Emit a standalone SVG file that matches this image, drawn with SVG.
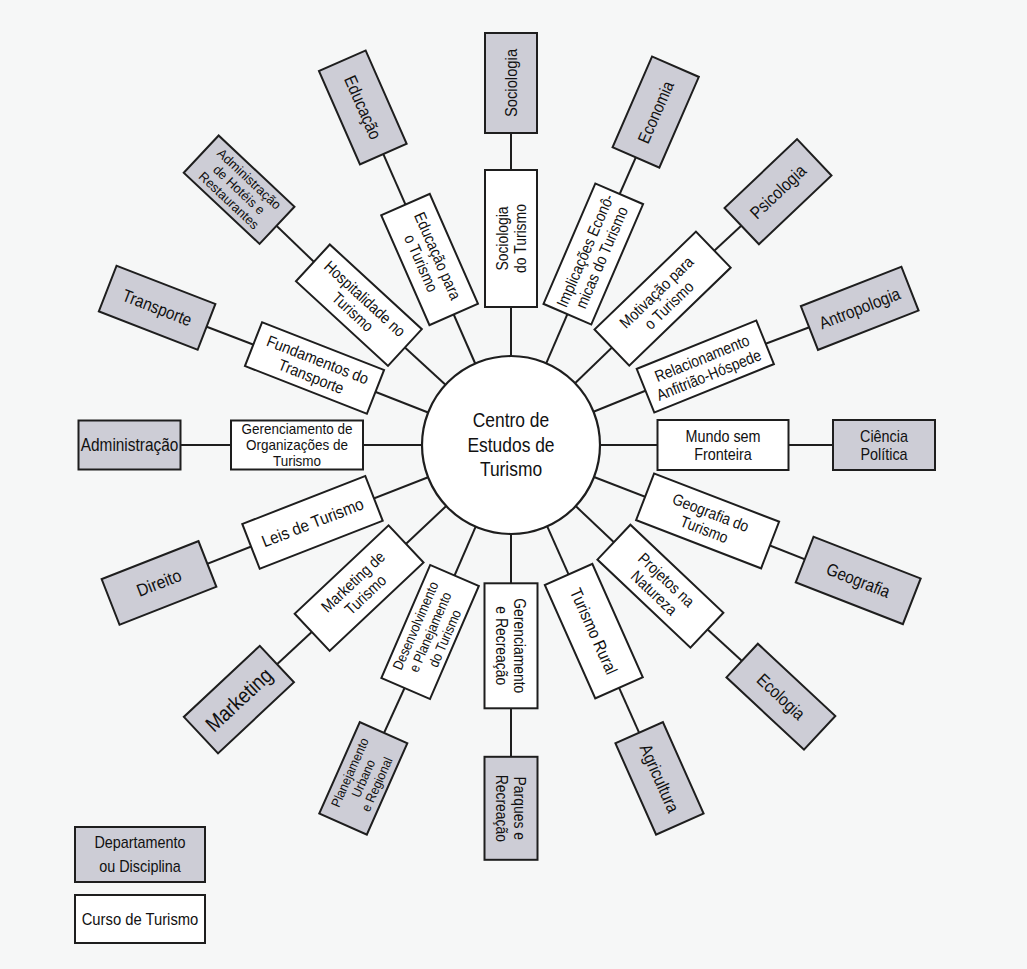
<svg xmlns="http://www.w3.org/2000/svg" width="1027" height="969" viewBox="0 0 1027 969">
<style>
.bg{fill:#f6f7f7}
.w{fill:#ffffff;stroke:#1e1e1e;stroke-width:2}
.g{fill:#cdcdd6;stroke:#1e1e1e;stroke-width:2}
.c{fill:#ffffff;stroke:#1e1e1e;stroke-width:2.2}
.ln{stroke:#1e1e1e;stroke-width:2;fill:none}
text{font-family:"Liberation Sans",Arial,sans-serif;font-size:16px;text-anchor:middle;fill:#111111}
.one{font-size:17px}
.tri{font-size:14.2px}
.gs{font-size:17.5px}
.g3{font-size:13.2px}
.big{font-size:20px}
.mk{font-size:21.5px}
</style>
<rect class="bg" x="0" y="0" width="1027" height="969"/>
<g id="connectors">
<line class="ln" x1="511" y1="356" x2="511" y2="238.5"/><line class="ln" x1="511" y1="238.5" x2="511" y2="83"/>
<line class="ln" x1="546.2" y1="363.3" x2="593.3" y2="254"/><line class="ln" x1="593.3" y1="254" x2="655.7" y2="112.1"/>
<line class="ln" x1="575" y1="383.2" x2="662.6" y2="298.6"/><line class="ln" x1="662.6" y1="298.6" x2="778" y2="191.7"/>
<line class="ln" x1="593.5" y1="411.7" x2="705.3" y2="366.5"/><line class="ln" x1="705.3" y1="366.5" x2="859.7" y2="308.3"/>
<line class="ln" x1="600" y1="445" x2="723" y2="445"/><line class="ln" x1="723" y1="445" x2="884" y2="445"/>
<line class="ln" x1="594" y1="477" x2="707.6" y2="520.9"/><line class="ln" x1="707.6" y1="520.9" x2="858.2" y2="580.4"/>
<line class="ln" x1="575.7" y1="506.1" x2="660.4" y2="586.2"/><line class="ln" x1="660.4" y1="586.2" x2="780.9" y2="696.7"/>
<line class="ln" x1="547.2" y1="526.3" x2="593.8" y2="631.1"/><line class="ln" x1="593.8" y1="631.1" x2="659.5" y2="778.4"/>
<line class="ln" x1="511" y1="534" x2="511" y2="645.8"/><line class="ln" x1="511" y1="645.8" x2="511" y2="808.3"/>
<line class="ln" x1="475.7" y1="526.7" x2="430.1" y2="632"/><line class="ln" x1="430.1" y1="632" x2="363.3" y2="778.4"/>
<line class="ln" x1="446.2" y1="506" x2="359.1" y2="588.1"/><line class="ln" x1="359.1" y1="588.1" x2="238.9" y2="699.6"/>
<line class="ln" x1="428.1" y1="477.3" x2="312.5" y2="522.4"/><line class="ln" x1="312.5" y1="522.4" x2="159" y2="582.9"/>
<line class="ln" x1="422" y1="445" x2="297" y2="445"/><line class="ln" x1="297" y1="445" x2="129.5" y2="445"/>
<line class="ln" x1="428.1" y1="412.5" x2="314.5" y2="368"/><line class="ln" x1="314.5" y1="368" x2="157.1" y2="307.7"/>
<line class="ln" x1="445.5" y1="384.8" x2="358.9" y2="305.2"/><line class="ln" x1="358.9" y1="305.2" x2="239.1" y2="189.7"/>
<line class="ln" x1="475.2" y1="363.5" x2="429.6" y2="259.5"/><line class="ln" x1="429.6" y1="259.5" x2="362.8" y2="107.4"/>
</g>
<g id="center" transform="translate(511 445)">
<circle class="c" cx="0" cy="0" r="89"/>
<text class="big" transform="scale(0.87 1)"><tspan x="0" y="-18">Centro de</tspan><tspan x="0" y="7">Estudos de</tspan><tspan x="0" y="31">Turismo</tspan></text>
</g>
<!-- courses -->
<g id="c-sociologia-turismo" transform="translate(511 238.5) rotate(-90)"><rect class="w" x="-68.5" y="-26" width="137" height="52"/><text transform="scale(0.87 1)"><tspan x="0" y="-3.3">Sociologia</tspan><tspan x="0" y="14.7">do Turismo</tspan></text></g>
<g id="c-implicacoes" transform="translate(593.3 254) rotate(-66.7)"><rect class="w" x="-65.5" y="-26" width="131" height="52"/><text transform="scale(0.87 1)"><tspan x="0" y="-3.3">Implicações Econô-</tspan><tspan x="0" y="14.7">micas do Turismo</tspan></text></g>
<g id="c-motivacao" transform="translate(662.6 298.6) rotate(-44)"><rect class="w" x="-70.5" y="-25" width="141" height="50"/><text transform="scale(0.87 1)"><tspan x="0" y="-3.3">Motivação para</tspan><tspan x="0" y="14.7">o Turismo</tspan></text></g>
<g id="c-relacionamento" transform="translate(705.3 366.5) rotate(-22)"><rect class="w" x="-64.5" y="-23.5" width="129" height="47"/><text transform="scale(0.87 1)"><tspan x="0" y="-3.3">Relacionamento</tspan><tspan x="0" y="14.7">Anfitrião-Hóspede</tspan></text></g>
<g id="c-mundo" transform="translate(723 445)"><rect class="w" x="-65.5" y="-25" width="131" height="50"/><text transform="scale(0.9 1)"><tspan x="0" y="-3.3">Mundo sem</tspan><tspan x="0" y="14.7">Fronteira</tspan></text></g>
<g id="c-geografia-turismo" transform="translate(707.6 520.9) rotate(21.1)"><rect class="w" x="-67" y="-25" width="134" height="50"/><text transform="scale(0.87 1)"><tspan x="0" y="-3.3">Geografia do</tspan><tspan x="0" y="14.7">Turismo</tspan></text></g>
<g id="c-projetos" transform="translate(660.4 586.2) rotate(43.4)"><rect class="w" x="-64" y="-24" width="128" height="48"/><text transform="scale(0.87 1)"><tspan x="0" y="-3.3">Projetos na</tspan><tspan x="0" y="14.7">Natureza</tspan></text></g>
<g id="c-rural" transform="translate(593.8 631.1) rotate(66)"><rect class="w" x="-62" y="-26" width="124" height="52"/><text class="one" transform="scale(0.87 1)" x="0" y="6">Turismo Rural</text></g>
<g id="c-gerenc-recreacao" transform="translate(511 645.8) rotate(90)"><rect class="w" x="-62.5" y="-26.5" width="125" height="53"/><text transform="scale(0.87 1)"><tspan x="0" y="-3.3">Gerenciamento</tspan><tspan x="0" y="14.7">e Recreação</tspan></text></g>
<g id="c-desenvolvimento" transform="translate(430.1 632) rotate(-66.6)"><rect class="w" x="-61.5" y="-26.5" width="123" height="53"/><text class="tri" transform="scale(0.87 1)"><tspan x="0" y="-11">Desenvolvimento</tspan><tspan x="0" y="5">e Planejamento</tspan><tspan x="0" y="21">do Turismo</tspan></text></g>
<g id="c-marketing-turismo" transform="translate(359.1 588.1) rotate(-43.3)"><rect class="w" x="-64.5" y="-25.5" width="129" height="51"/><text transform="scale(0.87 1)"><tspan x="0" y="-3.3">Marketing de</tspan><tspan x="0" y="14.7">Turismo</tspan></text></g>
<g id="c-leis" transform="translate(312.5 522.4) rotate(-21.3)"><rect class="w" x="-66" y="-24" width="132" height="48"/><text class="one" transform="scale(0.9 1)" x="0" y="6">Leis de Turismo</text></g>
<g id="c-gerenc-org" transform="translate(297 445)"><rect class="w" x="-66" y="-24.5" width="132" height="49"/><text class="tri" transform="scale(0.95 1)"><tspan x="0" y="-11">Gerenciamento de</tspan><tspan x="0" y="5">Organizações de</tspan><tspan x="0" y="21">Turismo</tspan></text></g>
<g id="c-fundamentos" transform="translate(314.5 368) rotate(21.4)"><rect class="w" x="-65.5" y="-23.5" width="131" height="47"/><text transform="scale(0.9 1)"><tspan x="0" y="-3.3">Fundamentos do</tspan><tspan x="0" y="14.7">Transporte</tspan></text></g>
<g id="c-hospitalidade" transform="translate(358.9 305.2) rotate(42.6)"><rect class="w" x="-62.5" y="-25" width="125" height="50"/><text transform="scale(0.87 1)"><tspan x="0" y="-3.3">Hospitalidade no</tspan><tspan x="0" y="14.7">Turismo</tspan></text></g>
<g id="c-educacao-turismo" transform="translate(429.6 259.5) rotate(66.3)"><rect class="w" x="-60" y="-26.5" width="120" height="53"/><text transform="scale(0.87 1)"><tspan x="0" y="-3.3">Educação para</tspan><tspan x="0" y="14.7">o Turismo</tspan></text></g>
<!-- departments -->
<g id="d-sociologia" transform="translate(511 83) rotate(-90)"><rect class="g" x="-50" y="-26" width="100" height="52"/><text class="one" transform="scale(0.87 1)" x="0" y="6">Sociologia</text></g>
<g id="d-economia" transform="translate(655.7 112.1) rotate(-66.5)"><rect class="g" x="-49.5" y="-25.5" width="99" height="51"/><text class="one" transform="scale(0.87 1)" x="0" y="6">Economia</text></g>
<g id="d-psicologia" transform="translate(778 191.7) rotate(-43.5)"><rect class="g" x="-50" y="-25" width="100" height="50"/><text class="gs" transform="scale(0.87 1)" x="0" y="6">Psicologia</text></g>
<g id="d-antropologia" transform="translate(859.7 308.3) rotate(-21.4)"><rect class="g" x="-54" y="-23.5" width="108" height="47"/><text class="gs" transform="scale(0.87 1)" x="0" y="6">Antropologia</text></g>
<g id="d-ciencia-politica" transform="translate(884 445)"><rect class="g" x="-51" y="-25" width="102" height="50"/><text transform="scale(0.9 1)"><tspan x="0" y="-3.3">Ciência</tspan><tspan x="0" y="14.7">Política</tspan></text></g>
<g id="d-geografia" transform="translate(858.2 580.4) rotate(21.3)"><rect class="g" x="-57.5" y="-24.5" width="115" height="49"/><text class="gs" transform="scale(0.87 1)" x="0" y="6">Geografia</text></g>
<g id="d-ecologia" transform="translate(780.9 696.7) rotate(43)"><rect class="g" x="-53" y="-23" width="106" height="46"/><text class="gs" transform="scale(0.87 1)" x="0" y="6">Ecologia</text></g>
<g id="d-agricultura" transform="translate(659.5 778.4) rotate(66)"><rect class="g" x="-50" y="-26" width="100" height="52"/><text class="gs" transform="scale(0.87 1)" x="0" y="6">Agricultura</text></g>
<g id="d-parques" transform="translate(511 808.3) rotate(90)"><rect class="g" x="-51.5" y="-26.5" width="103" height="53"/><text transform="scale(0.87 1)"><tspan x="0" y="-3.3">Parques e</tspan><tspan x="0" y="14.7">Recreação</tspan></text></g>
<g id="d-planejamento" transform="translate(363.3 778.4) rotate(-66.1)"><rect class="g" x="-50" y="-26" width="100" height="52"/><text class="g3" transform="scale(0.92 1)"><tspan x="0" y="-10.2">Planejamento</tspan><tspan x="0" y="4.6">Urbano</tspan><tspan x="0" y="19.4">e Regional</tspan></text></g>
<g id="d-marketing" transform="translate(238.9 699.6) rotate(-43.1)"><rect class="g" x="-52" y="-25" width="104" height="50"/><text class="mk" transform="scale(0.87 1)" x="0" y="7.5">Marketing</text></g>
<g id="d-direito" transform="translate(159 582.9) rotate(-21.4)"><rect class="g" x="-52" y="-24.5" width="104" height="49"/><text class="gs" transform="scale(0.92 1)" x="0" y="6">Direito</text></g>
<g id="d-administracao" transform="translate(129.5 445)"><rect class="g" x="-51" y="-24.5" width="102" height="49"/><text class="gs" transform="scale(0.88 1)" x="0" y="6">Administração</text></g>
<g id="d-transporte" transform="translate(157.1 307.7) rotate(21.2)"><rect class="g" x="-53" y="-24.5" width="106" height="49"/><text class="gs" transform="scale(0.87 1)" x="0" y="6">Transporte</text></g>
<g id="d-adm-hoteis" transform="translate(239.1 189.7) rotate(43.2)"><rect class="g" x="-52" y="-25.5" width="104" height="51"/><text class="g3" transform="scale(0.98 1)"><tspan x="0" y="-10.2">Administração</tspan><tspan x="0" y="4.6">de Hotéis e</tspan><tspan x="0" y="19.4">Restaurantes</tspan></text></g>
<g id="d-educacao" transform="translate(362.8 107.4) rotate(66.3)"><rect class="g" x="-51" y="-25.5" width="102" height="51"/><text class="gs" transform="scale(0.87 1)" x="0" y="6">Educação</text></g>
<!-- legend -->
<g id="legend-departamento" transform="translate(140 854.5)"><rect class="g" x="-65" y="-27.5" width="130" height="55"/><text transform="scale(0.9 1)"><tspan x="0" y="-7">Departamento</tspan><tspan x="0" y="17.5">ou Disciplina</tspan></text></g>
<g id="legend-curso" transform="translate(140 919)"><rect class="w" x="-65" y="-24" width="130" height="48"/><text class="one" transform="scale(0.87 1)" x="0" y="6">Curso de Turismo</text></g>
</svg>
